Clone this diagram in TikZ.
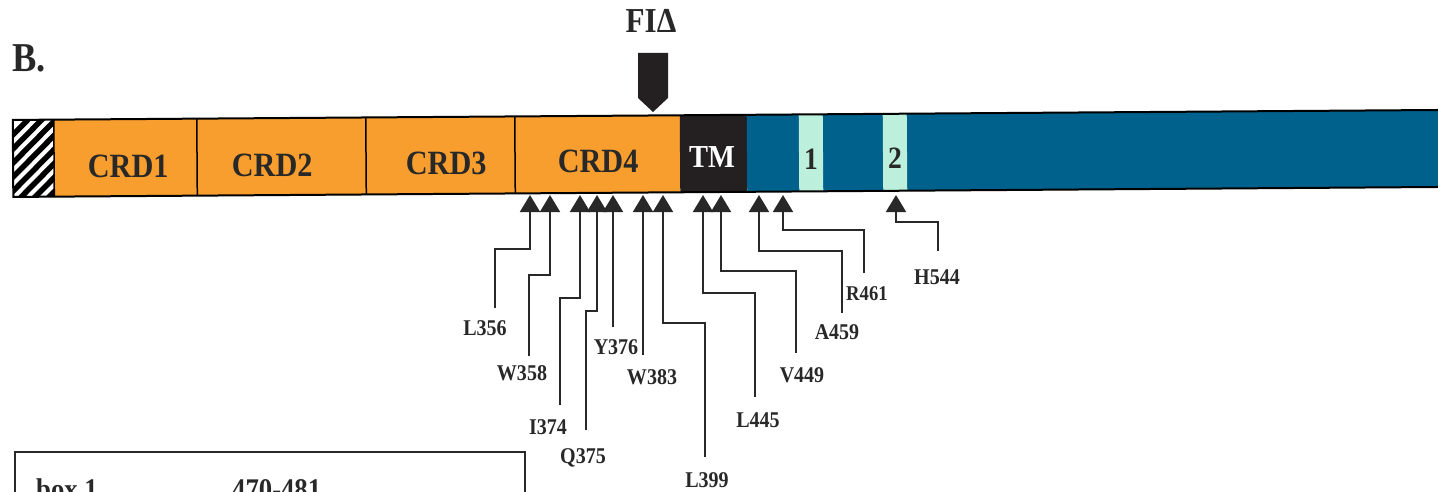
\documentclass[tikz,border=0pt]{standalone}
\usepackage{fontspec}
\setmainfont{Liberation Serif}[FakeStretch=0.89]
\usetikzlibrary{arrows.meta}
\definecolor{crdorange}{RGB}{248,158,46}
\definecolor{cytblue}{RGB}{0,98,140}
\definecolor{boxmint}{RGB}{188,240,220}
\definecolor{tmblack}{RGB}{36,32,33}
\definecolor{inkgray}{RGB}{40,40,40}
\begin{document}
\begin{tikzpicture}[x=1pt,y=-1pt,
  lead/.style={draw=inkgray, line width=1.8pt, -{Triangle[length=17pt,width=20pt]}},
  lbl/.style={font=\bfseries\fontsize{22.5}{26}\selectfont, inner sep=0pt, text=inkgray},
  crdtext/.style={font=\bfseries\fontsize{34}{40}\selectfont, inner sep=0pt, anchor=base, text=inkgray},
  segline/.style={draw=black, line width=1.5pt},
  bigtext/.style={font=\bfseries\fontsize{35}{40}\selectfont, inner sep=0pt, text=inkgray}]
\useasboundingbox (0,0) rectangle (1438,492);
\clip (0,0) rectangle (1438,492);

% panel letter and FI-delta marker
\node[font=\bfseries\fontsize{41}{46}\selectfont, inner sep=0pt, anchor=base west, text=inkgray] (panel) at (12,72) {B.};
\node[bigtext, anchor=base] (fid) at (651,33) {FI\symbol{"0394}};
\fill[tmblack] (638,53) -- (668,53) -- (668,98) -- (653,112) -- (638,98) -- cycle;

% protein bar
\begin{scope}[rotate around={0.4:(720,153.5)}]
  \fill[crdorange] (54,115) rectangle (680,192);
  \fill[tmblack] (680,115) rectangle (747,192);
  \fill[cytblue] (747,115) rectangle (1450,192);
  \fill[boxmint] (799,115) rectangle (823,192);
  \fill[boxmint] (883,115) rectangle (907,192);
  \begin{scope}
    \clip (13,115) rectangle (54,192);
    \fill[white] (13,115) rectangle (54,192);
    \foreach \k in {-5,...,4} {
      \draw[black, line width=5.5pt] (13+\k*14,200) -- (13+\k*14+90,110);
    }
  \end{scope}
  \draw[segline] (54,115) -- (54,192);
  \draw[segline] (197,115) -- (197,192);
  \draw[segline] (366,115) -- (366,192);
  \draw[segline] (515,115) -- (515,192);
  \draw[black, line width=2pt] (1450,115) -- (13,115) -- (13,192) -- (1450,192);
  \node[crdtext] (crd1) at (128,173) {CRD1};
  \node[crdtext] (crd2) at (272,173) {CRD2};
  \node[crdtext] (crd3) at (446,173) {CRD3};
  \node[crdtext] (crd4) at (598,172) {CRD4};
  \node[crdtext, font=\bfseries\fontsize{32}{38}\selectfont, text=white] (tm) at (712,167) {TM};
  \node[crdtext, font=\bfseries\fontsize{31}{36}\selectfont] (b1) at (811,170) {1};
  \node[crdtext, font=\bfseries\fontsize{31}{36}\selectfont] (b2) at (895,170) {2};
\end{scope}

% mutation labels
\node[lbl] (L356) at (485,328) {L356};
\node[lbl] (W358) at (522,373) {W358};
\node[lbl] (I374) at (548,427) {I374};
\node[lbl] (Q375) at (583,458) {Q375};
\node[lbl] (Y376) at (616,347) {Y376};
\node[lbl] (W383) at (652,377) {W383};
\node[lbl] (L399) at (707,480) {L399};
\node[lbl] (L445) at (758,420) {L445};
\node[lbl] (V449) at (802,375) {V449};
\node[lbl] (A459) at (837,332) {A459};
\node[lbl, font=\bfseries\fontsize{21}{24}\selectfont] (R461) at (867,294) {R461};
\node[lbl] (H544) at (937,277) {H544};

% leader ends (free ends) and triangle tips
\foreach \n/\ex/\ey/\tx in {L356/495/308/530, W358/529/356/550, I374/560/405/580,
  Q375/586/430/597, Y376/613/327/613, W383/643/355/643, L399/705/457/663,
  L445/755/397/703, V449/796/353/721, A459/842/313/759, R461/864/273/783, H544/938/251/896} {
  \coordinate (e\n) at (\ex,\ey);
  \coordinate (t\n) at (\tx,195);
}

\draw[lead] (eL356) |- (530,249) -- (tL356);
\draw[lead] (eW358) |- (550,275) -- (tW358);
\draw[lead] (eI374) |- (580,298) -- (tI374);
\draw[lead] (eQ375) |- (597,311) -- (tQ375);
\draw[lead] (eY376) -- (tY376);
\draw[lead] (eW383) -- (tW383);
\draw[lead] (eL399) |- (663,323) -- (tL399);
\draw[lead] (eL445) |- (703,293) -- (tL445);
\draw[lead] (eV449) |- (721,271) -- (tV449);
\draw[lead] (eA459) |- (759,251) -- (tA459);
\draw[lead] (eR461) |- (783,230) -- (tR461);
\draw[lead] (eH544) |- (896,222) -- (tH544);

% partially visible table box (cut by the lower edge, as in the reference)
\draw[inkgray, line width=2pt] (15,520) -- (15,452) -- (525,452) -- (525,520);
\node[font=\bfseries\fontsize{30}{34}\selectfont, inner sep=0pt, anchor=base west, text=inkgray] (box1) at (36,499) {box 1};
\node[font=\bfseries\fontsize{30}{34}\selectfont, inner sep=0pt, anchor=base west, text=inkgray] (rng) at (232,499) {470-481};
\end{tikzpicture}
\end{document}
